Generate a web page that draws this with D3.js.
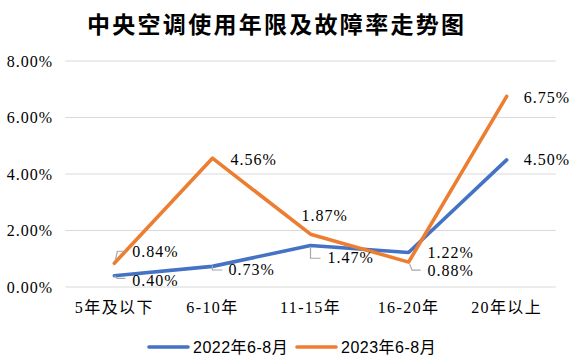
<!DOCTYPE html>
<html>
<head>
<meta charset="utf-8">
<script src="https://cdn.jsdelivr.net/npm/d3@7"></script>
<style>
  html, body { margin: 0; padding: 0; background: #fff; }
  svg { display: block; }
</style>
</head>
<body>
<div id="chart"></div>
<script>
// ── Dados ──
const titulo = '中央空调使用年限及故障率走势图';
const categorias = ['5年及以下', '6-10年', '11-15年', '16-20年', '20年以上'];
const serie2022 = [0.40, 0.73, 1.47, 1.22, 4.50];
const serie2023 = [0.84, 4.56, 1.87, 0.88, 6.75];
const nomesSeries = ['2022年6-8月', '2023年6-8月'];
const ticksY = [0, 2, 4, 6, 8];

// ── Estilo ──
const CORES = { azul: '#4472C4', laranja: '#ED7D31', grade: '#D9D9D9', guia: '#A6A6A6', texto: '#000' };
const FONTE_SERIF = "'Liberation Serif', 'Noto Sans CJK SC', serif";
const FONTE_SANS = "'Liberation Sans', 'Noto Sans CJK SC', sans-serif";

const W = 574, H = 362;
const svg = d3.select('#chart').append('svg').attr('width', W).attr('height', H);

const x = d3.scaleBand().domain(categorias).range([65.3, 555.7]);
const y = d3.scaleLinear().domain([0, 8]).range([287, 61]);
const cx = c => x(c) + x.bandwidth() / 2;

// título
svg.append('text')
  .attr('x', 87).attr('y', 33)
  .attr('textLength', 377).attr('lengthAdjust', 'spacing')
  .style('font-family', "'Noto Sans CJK SC', sans-serif")
  .style('font-weight', 700)
  .style('font-size', '23px')
  .text(titulo);

// grade + eixo Y
svg.append('g').selectAll('line').data(ticksY).join('line')
  .attr('x1', x.range()[0]).attr('x2', x.range()[1])
  .attr('y1', d => y(d)).attr('y2', d => y(d))
  .attr('stroke', CORES.grade).attr('stroke-width', 1);

svg.append('g').selectAll('text').data(ticksY).join('text')
  .attr('x', 53).attr('y', d => y(d))
  .attr('text-anchor', 'end').attr('dominant-baseline', 'central')
  .style('font-family', FONTE_SERIF).style('font-size', '16px').style('letter-spacing', '1px')
  .text(d => d.toFixed(2) + '%');

// eixo X (rótulos)
svg.append('g').selectAll('text').data(categorias).join('text')
  .attr('x', d => cx(d)).attr('y', 313)
  .attr('text-anchor', 'middle')
  .style('font-family', FONTE_SERIF).style('font-size', '16px').style('letter-spacing', '1.4px')
  .text(d => d);

// linhas
const linha = d3.line().x((d, i) => cx(categorias[i])).y(d => y(d));
[[serie2022, CORES.azul], [serie2023, CORES.laranja]].forEach(([s, cor]) => {
  svg.append('path').datum(s)
    .attr('d', linha).attr('fill', 'none')
    .attr('stroke', cor).attr('stroke-width', 3.6)
    .attr('stroke-linejoin', 'round').attr('stroke-linecap', 'round');
});

// rótulos de dados: deslocamento [dx, dy] e linha-guia opcional (relativos ao ponto)
const rotulos2022 = [
  { off: [18, 4.3], guia: [[0, 0], [3, 2.6], [11, 2.6]] },
  { off: [16, 3.6], guia: [[0, -1], [0, 3.6], [10, 3.6]] },
  { off: [17, 12.5], guia: [[0, 1], [0, 12.8], [10, 12.8]] },
  { off: [19, 0] },
  { off: [17, 0] },
];
const rotulos2023 = [
  { off: [18, -11.6], guia: [[1, -3], [3, -12], [11, -12]] },
  { off: [18, 1] },
  { off: [-9, -19] },
  { off: [19, 8], guia: [[1, 2], [3.5, 8], [12, 8]] },
  { off: [17, 1] },
];

function desenhaRotulos(serie, rotulos) {
  serie.forEach((v, i) => {
    const px = cx(categorias[i]), py = y(v);
    const r = rotulos[i];
    if (r.guia) {
      svg.append('path')
        .attr('d', d3.line()(r.guia.map(p => [px + p[0], py + p[1]])))
        .attr('fill', 'none').attr('stroke', CORES.guia).attr('stroke-width', 1.2);
    }
    svg.append('text')
      .attr('x', px + r.off[0]).attr('y', py + r.off[1])
      .attr('dominant-baseline', 'central')
      .style('font-family', FONTE_SERIF).style('font-size', '16px').style('letter-spacing', '1px')
      .text(v.toFixed(2) + '%');
  });
}
desenhaRotulos(serie2022, rotulos2022);
desenhaRotulos(serie2023, rotulos2023);

// legenda
const legenda = [
  { nome: nomesSeries[0], cor: CORES.azul, x: 149 },
  { nome: nomesSeries[1], cor: CORES.laranja, x: 297 },
];
legenda.forEach(l => {
  svg.append('line')
    .attr('x1', l.x).attr('x2', l.x + 39).attr('y1', 347).attr('y2', 347)
    .attr('stroke', l.cor).attr('stroke-width', 3.6).attr('stroke-linecap', 'round');
  svg.append('text')
    .attr('x', l.x + 44).attr('y', 347)
    .attr('dominant-baseline', 'central')
    .style('font-family', FONTE_SANS).style('font-size', '16px').style('letter-spacing', '0.5px')
    .text(l.nome);
});
</script>
</body>
</html>
